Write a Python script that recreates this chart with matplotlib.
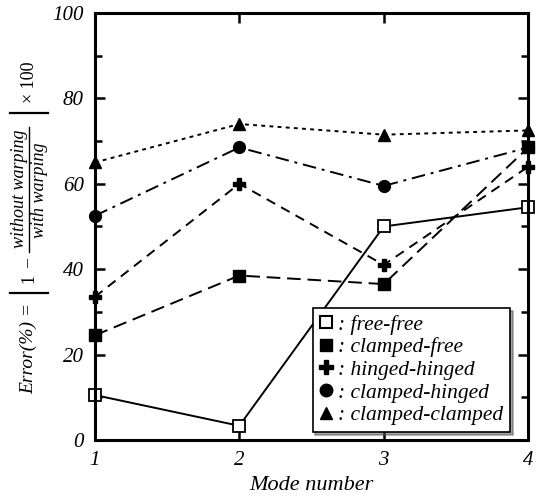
import matplotlib.pyplot as plt
from matplotlib.lines import Line2D

plt.rcParams['font.family'] = ['Liberation Serif', 'DejaVu Serif']

modes = [1, 2, 3, 4]
free_free = [10.5, 3.3, 50.0, 54.5]
clamped_free = [24.5, 38.5, 36.5, 68.5]
hinged_hinged = [33.5, 60.0, 41.0, 64.0]
clamped_hinged = [52.5, 68.5, 59.5, 68.5]
clamped_clamped = [65.0, 74.0, 71.5, 72.5]
labels = [': free-free', ': clamped-free', ': hinged-hinged',
          ': clamped-hinged', ': clamped-clamped']
yticks = [0, 20, 40, 60, 80, 100]

W, H = 539, 501
fig = plt.figure(figsize=(W / 100, H / 100), dpi=100)
ax = fig.add_axes([0.176, 0.122, 0.804, 0.852])

k = dict(color='black', lw=1.4, clip_on=False)
ax.plot(modes, free_free, ls='-', marker='s', ms=8, mfc='white', mec='black', mew=1.3, **k)
ax.plot(modes, clamped_free, ls=(0, (7, 3.5)), marker='s', ms=8, **k)
ax.plot(modes, hinged_hinged, ls=(0, (5, 3.5)), marker='P', ms=9, **k)
ax.plot(modes, clamped_hinged, ls=(0, (7, 3, 1.5, 3)), marker='o', ms=8.5, **k)
ax.plot(modes, clamped_clamped, ls=(0, (2, 2.2)), marker='^', ms=8.5, **k)

ax.set_xlim(1, 4)
ax.set_ylim(0, 100)
ax.set_xticks(modes)
ax.set_xticklabels(['1', '2', '3', '4'], style='italic', fontsize=15)
ax.set_yticks(yticks)
ax.set_yticklabels([str(v) for v in yticks], style='italic', fontsize=15)
ax.set_yticks(range(10, 100, 20), minor=True)
ax.tick_params(which='both', direction='in', top=True, right=True, width=1.8)
ax.tick_params(which='major', length=7, pad=8)
ax.tick_params(which='minor', length=5)
for s in ax.spines.values():
    s.set_linewidth(2.2)

ax.set_xlabel('Mode number', style='italic', fontsize=16, labelpad=4)

# y label built from pieces: Error(%) = |1 - without warping / with warping| x 100
def px(x, y):
    return x / W, 1 - y / H

def vtext(x, y, s, size, style='italic'):
    fig.text(*px(x, y), s, rotation=90, ha='center', va='center',
             rotation_mode='anchor', fontsize=size, style=style)

def fline(x0, y0, x1, y1, lw):
    a, b = px(x0, y0)
    c, d = px(x1, y1)
    fig.add_artist(Line2D([a, c], [b, d], color='black', lw=lw,
                          transform=fig.transFigure))

vtext(29, 348, 'Error(%) =', 14)
fline(10, 293, 48, 293, 1.6)
vtext(29, 278, '1', 13, 'normal')
vtext(29, 263, '\u2013', 13, 'normal')
vtext(20, 189, 'without warping', 13)
fline(29, 127, 29, 252, 1.0)
vtext(39, 190, 'with warping', 13)
fline(10, 113, 48, 113, 1.6)
vtext(30, 82, '\u00d7 100', 13, 'normal')

handles = [
    Line2D([], [], ls='', marker='s', ms=9, mfc='white', mec='black', mew=1.5),
    Line2D([], [], ls='', marker='s', ms=9, color='black'),
    Line2D([], [], ls='', marker='P', ms=10, color='black'),
    Line2D([], [], ls='', marker='o', ms=9, color='black'),
    Line2D([], [], ls='', marker='^', ms=9, color='black'),
]
leg = ax.legend(handles, labels, loc='lower right', bbox_to_anchor=(0.958, 0.019),
                borderaxespad=0, prop={'style': 'italic', 'size': 15.5},
                handlelength=0.6, handletextpad=0.3, labelspacing=0.12,
                borderpad=0.3, fancybox=False, shadow=True, framealpha=1,
                edgecolor='black')
leg.get_frame().set_linewidth(1.2)

fig.savefig('out.png', dpi=100)
